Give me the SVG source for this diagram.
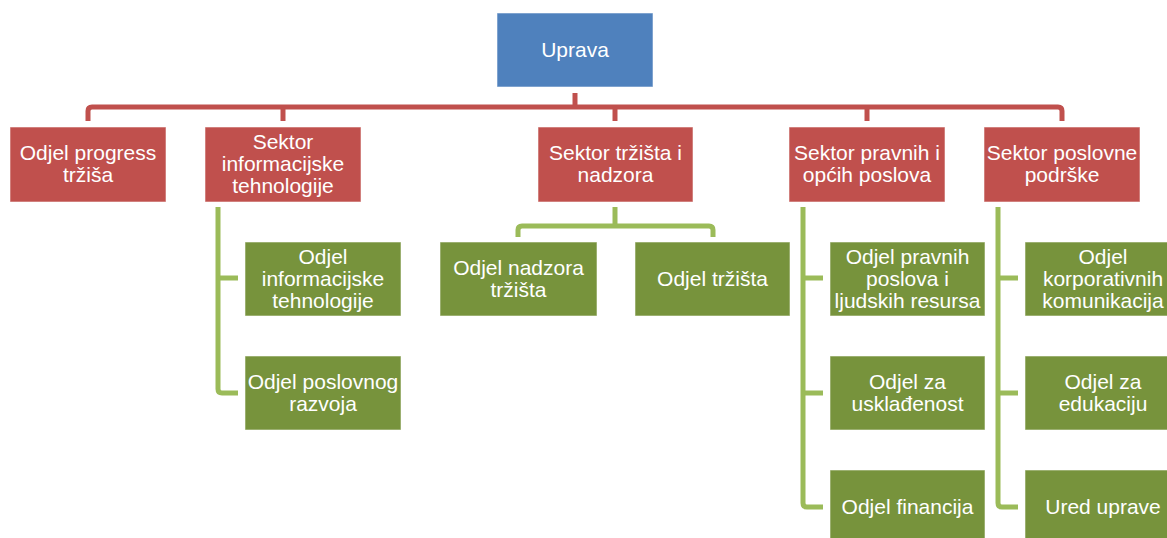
<svg xmlns="http://www.w3.org/2000/svg" width="1167" height="538" viewBox="0 0 1167 538">
<style>
.b{stroke:#ffffff;stroke-opacity:0.55;stroke-width:1}
.blue{fill:#4F81BD}
.red{fill:#C0504D}
.green{fill:#77933C}
.t{font-family:"Liberation Sans",Arial,sans-serif;font-size:21px;fill:#ffffff;text-anchor:middle}
.cr{fill:none;stroke:#C0504D;stroke-width:5}
.cg{fill:none;stroke:#9BBB59;stroke-width:5}
</style>
<rect width="1167" height="538" fill="#ffffff"/>
<g id="connectors">
<path class="cr" d="M575,93 V107"/>
<path class="cr" d="M88,121 V111 Q88,107 92,107 H1058 Q1062,107 1062,111 V121"/>
<path class="cr" d="M283,107 V121"/>
<path class="cr" d="M615,107 V121"/>
<path class="cr" d="M867,107 V121"/>
<path class="cg" d="M218,207 V389 Q218,393 222,393 H238"/>
<path class="cg" d="M218,278 H238"/>
<path class="cg" d="M615,207 V226"/>
<path class="cg" d="M518,237 V230 Q518,226 522,226 H709 Q713,226 713,230 V237"/>
<path class="cg" d="M803,207 V503 Q803,507 807,507 H823"/>
<path class="cg" d="M803,278 H823"/>
<path class="cg" d="M803,393 H823"/>
<path class="cg" d="M998,207 V503 Q998,507 1002,507 H1018"/>
<path class="cg" d="M998,278 H1018"/>
<path class="cg" d="M998,393 H1018"/>
</g>
<g id="uprava">
<rect class="blue b" x="497" y="13" width="156" height="74"/>
<text class="t" x="575" y="57">Uprava</text>
</g>
<g id="odjel-progress">
<rect class="red b" x="10" y="127" width="156" height="75"/>
<text class="t" x="88" y="160">Odjel progress</text>
<text class="t" x="88" y="182">tržiša</text>
</g>
<g id="sektor-it">
<rect class="red b" x="205" y="127" width="156" height="75"/>
<text class="t" x="283" y="149">Sektor</text>
<text class="t" x="283" y="171">informacijske</text>
<text class="t" x="283" y="193">tehnologije</text>
</g>
<g id="sektor-trzista">
<rect class="red b" x="538" y="127" width="155" height="75"/>
<text class="t" x="615.5" y="160">Sektor tržišta i</text>
<text class="t" x="615.5" y="182">nadzora</text>
</g>
<g id="sektor-pravnih">
<rect class="red b" x="789" y="127" width="156" height="75"/>
<text class="t" x="867" y="160">Sektor pravnih i</text>
<text class="t" x="867" y="182">općih poslova</text>
</g>
<g id="sektor-poslovne">
<rect class="red b" x="984" y="127" width="156" height="75"/>
<text class="t" x="1062" y="160">Sektor poslovne</text>
<text class="t" x="1062" y="182">podrške</text>
</g>
<g id="odjel-it">
<rect class="green b" x="245" y="242" width="156" height="74"/>
<text class="t" x="323" y="264">Odjel</text>
<text class="t" x="323" y="286">informacijske</text>
<text class="t" x="323" y="308">tehnologije</text>
</g>
<g id="odjel-razvoja">
<rect class="green b" x="245" y="356" width="156" height="74"/>
<text class="t" x="323" y="389">Odjel poslovnog</text>
<text class="t" x="323" y="411">razvoja</text>
</g>
<g id="odjel-nadzora">
<rect class="green b" x="440" y="242" width="157" height="74"/>
<text class="t" x="518.5" y="275">Odjel nadzora</text>
<text class="t" x="518.5" y="297">tržišta</text>
</g>
<g id="odjel-trzista">
<rect class="green b" x="635" y="242" width="155" height="74"/>
<text class="t" x="712.5" y="286">Odjel tržišta</text>
</g>
<g id="odjel-pravnih">
<rect class="green b" x="830" y="242" width="155" height="74"/>
<text class="t" x="907.5" y="264">Odjel pravnih</text>
<text class="t" x="907.5" y="286">poslova i</text>
<text class="t" x="907.5" y="308">ljudskih resursa</text>
</g>
<g id="odjel-uskladenost">
<rect class="green b" x="830" y="356" width="155" height="74"/>
<text class="t" x="907.5" y="389">Odjel za</text>
<text class="t" x="907.5" y="411">usklađenost</text>
</g>
<g id="odjel-financija">
<rect class="green b" x="830" y="470" width="155" height="74"/>
<text class="t" x="907.5" y="514">Odjel financija</text>
</g>
<g id="odjel-korporativnih">
<rect class="green b" x="1025" y="242" width="156" height="74"/>
<text class="t" x="1103" y="264">Odjel</text>
<text class="t" x="1103" y="286">korporativnih</text>
<text class="t" x="1103" y="308">komunikacija</text>
</g>
<g id="odjel-edukaciju">
<rect class="green b" x="1025" y="356" width="156" height="74"/>
<text class="t" x="1103" y="389">Odjel za</text>
<text class="t" x="1103" y="411">edukaciju</text>
</g>
<g id="ured-uprave">
<rect class="green b" x="1025" y="470" width="156" height="74"/>
<text class="t" x="1103" y="514">Ured uprave</text>
</g>
</svg>
